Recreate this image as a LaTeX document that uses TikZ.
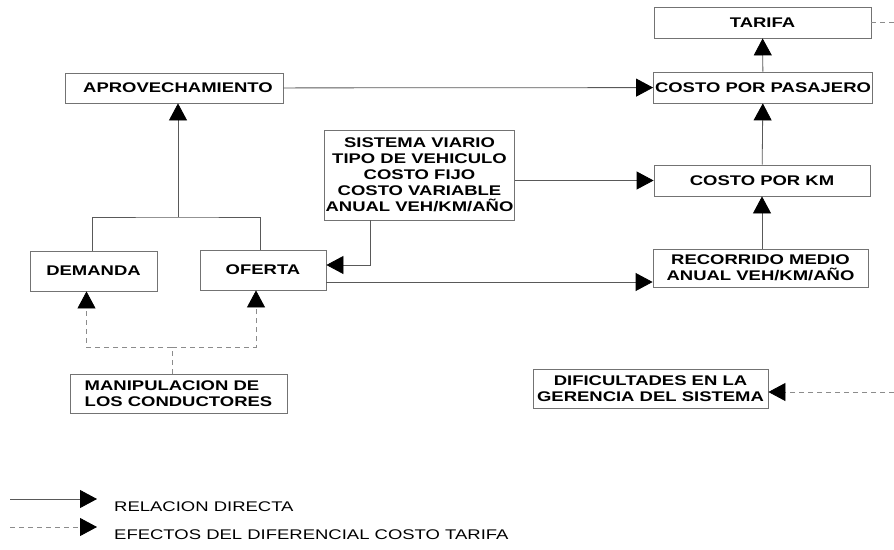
\documentclass[tikz,border=0pt]{standalone}
\usepackage{fontspec}
\setmainfont[FakeStretch=1.32]{Liberation Sans}
\usetikzlibrary{arrows.meta, positioning, calc}

\begin{document}
\begin{tikzpicture}[x=1pt,y=-1pt,>={Triangle[length=17pt,width=18pt,color=black]},
    blockbox/.style={draw=black!55, line width=0.8pt, inner xsep=1pt, inner ysep=0pt, align=center,
      font=\fontsize{14}{16}\selectfont\bfseries},
    link/.style={draw=black!65, line width=0.8pt},
    dashlink/.style={draw=black!45, line width=0.8pt, dash pattern=on 5pt off 4pt},
    legendtext/.style={anchor=west, inner sep=0pt, font=\fontsize{14}{16}\selectfont}]
        \useasboundingbox (0,0) rectangle (894,549);
        \node[blockbox, minimum width=217pt, minimum height=31pt] (tarifa) at (762.5,22.5) {TARIFA};
        \node[blockbox, minimum width=219pt, minimum height=31pt] (cpp) at (763,87.5) {COSTO POR PASAJERO};
        \node[blockbox, minimum width=218pt, minimum height=30pt] (aprov) at (174,88) {\hspace*{8pt}APROVECHAMIENTO};
        \node[blockbox, minimum width=187pt, minimum height=90pt] (sistema) at (419.5,175) {SISTEMA VIARIO\\TIPO DE VEHICULO\\COSTO FIJO\\COSTO VARIABLE\\ANUAL VEH/KM/AÑO};
        \node[blockbox, minimum width=216pt, minimum height=31pt] (cpk) at (762,180.5) {COSTO POR KM};
        \node[blockbox, minimum width=127pt, minimum height=40pt] (demanda) at (93.5,271) {DEMANDA};
        \node[blockbox, minimum width=126pt, minimum height=40pt] (oferta) at (263,270) {OFERTA};
        \node[blockbox, minimum width=215pt, minimum height=38pt] (recorrido) at (760.5,268) {RECORRIDO MEDIO\\ANUAL VEH/KM/AÑO};
        \node[blockbox, minimum width=217pt, minimum height=39pt, align=left] (manip) at (178.5,393.5) {MANIPULACION DE\\LOS CONDUCTORES};
        \node[blockbox, minimum width=235pt, minimum height=39pt] (dific) at (650.5,388.5) {DIFICULTADES EN LA\\GERENCIA DEL SISTEMA};

        \coordinate (tarifaout) at (894,22.5);
        \coordinate (join) at (178,217);
        \coordinate (split) at (172,347);
        \coordinate (sistemadown) at (370,220);
        \coordinate (dificin) at (894,392);

        \draw[link, ->] (cpp) -- (tarifa);
        \draw[link, ->] (cpk) -- (cpp);
        \draw[link, ->] (recorrido.north -| cpk) -- (cpk);
        \draw[link, ->] (aprov) -- (cpp);
        \draw[link, ->] (sistema.east |- cpk) -- (cpk);
        \draw[link, ->] (sistemadown) |- ([yshift=5pt]oferta.east);
        \draw[link, ->] ([yshift=-12pt]oferta.east) -- ([yshift=-12pt]oferta.east -| recorrido.west);
        \draw[link] ([xshift=-1.5pt]demanda.north) |- (join) -| ([xshift=-3pt]oferta.north);
        \draw[link, ->] (join) -- (join |- aprov.south);
        \draw[dashlink] (tarifa) -- (tarifaout);
        \draw[dashlink] (manip.north -| split) -- (split);
        \draw[dashlink, ->] (split) -| ([xshift=-7pt]demanda.south);
        \draw[dashlink, ->] (split) -| ([xshift=-7pt]oferta.south);
        \draw[dashlink, ->] (dificin) -- (dificin -| dific.east);

        \coordinate (solida) at (10,499);
        \coordinate (solidb) at (97,499);
        \coordinate (dasha) at (10,527);
        \coordinate (dashb) at (97,527);
        \draw[link, ->] (solida) -- (solidb);
        \draw[dashlink, ->] (dasha) -- (dashb);
        \node[legendtext] (reldirecta) at (114,507) {RELACION DIRECTA};
        \node[legendtext] (efectos) at (114,535) {EFECTOS DEL DIFERENCIAL COSTO TARIFA};
    \end{tikzpicture}
\end{document}
